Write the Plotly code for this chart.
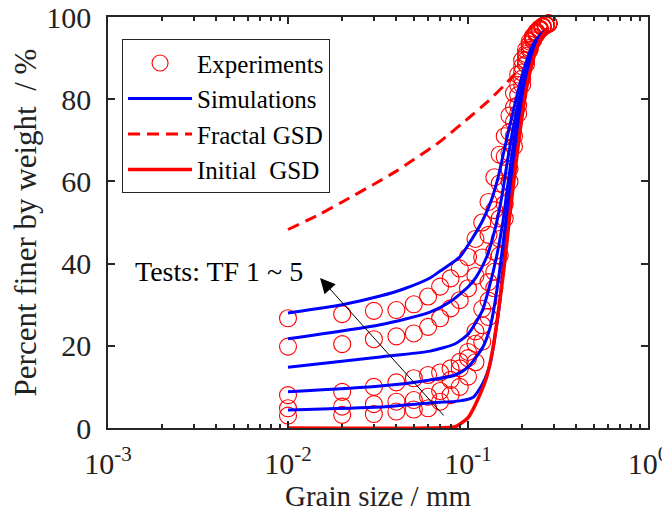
import math
import plotly.graph_objects as go

# ---------------- data ----------------
exp_d = [0.01, 0.02, 0.03, 0.04, 0.05, 0.06, 0.07, 0.08, 0.09, 0.10,
         0.11, 0.12, 0.13, 0.14, 0.15, 0.16, 0.17, 0.18, 0.19, 0.20,
         0.21, 0.22, 0.23, 0.24, 0.25, 0.26, 0.27, 0.28]
exp_tf1 = [3.0, 3.2, 3.4, 4.0, 4.5, 4.8, 6.4, 8.0, 10.0, 12.5,
           16, 21, 27, 34, 42, 51, 60, 68.5, 76.5, 83.5,
           88.5, 92, 94.3, 95.8, 96.8, 97.5, 98, 98.4]
exp_tf2 = [4.8, 5.2, 5.8, 6.4, 6.8, 7.6, 9.0, 11.7, 14.5, 17.0,
           20.5, 25, 31, 38, 46, 54.5, 63, 71, 78.5, 85,
           89.5, 92.5, 94.6, 96, 97, 97.6, 98, 98.4]
exp_tf3 = [8.0, 8.8, 10.0, 11.1, 12.1, 12.9, 13.5, 14.5, 16.1, 18.5,
           23.5, 29, 35.5, 43, 51, 59, 67, 74.5, 81, 86.5,
           90.5, 93.3, 95.2, 96.4, 97.2, 97.8, 98.2, 98.5]
exp_tf4 = [19.8, 20.4, 21.6, 22.3, 23.0, 24.6, 26.7, 29.1, 31.1, 34.0,
           37, 41.5, 47, 53, 59.5, 66, 72, 78, 83.5, 88,
           91, 93.3, 95, 96.2, 97, 97.6, 98, 98.4]
exp_tf5 = [26.7, 27.7, 28.5, 28.7, 30.1, 32.0, 34.4, 36.4, 38.8, 41.6,
           46, 50, 55, 61, 66.5, 71, 76, 81.5, 86, 89.5,
           92, 94, 95.3, 96.3, 97, 97.6, 98, 98.4]

sim1_d = [0.01, 0.0325, 0.0615, 0.09, 0.107, 0.121, 0.133, 0.141, 0.15, 0.156, 0.168, 0.18, 0.195, 0.21, 0.235, 0.255, 0.275]
sim1_p = [4.4, 5.1, 6.1, 6.6, 7.5, 10.9, 15.8, 22.1, 30.4, 38.4, 51, 62, 74, 83.5, 92, 95, 97]
sim2_d = [0.01, 0.0325, 0.0615, 0.085, 0.1, 0.121, 0.133, 0.141, 0.15, 0.165, 0.18, 0.195, 0.21, 0.232, 0.25, 0.275]
sim2_p = [8.8, 10.2, 11.7, 12.9, 14.8, 19.7, 24.6, 30.4, 38.4, 53, 66, 77, 85.5, 92, 95, 97]
sim3_d = [0.01, 0.0325, 0.0615, 0.085, 0.1, 0.12, 0.13, 0.144, 0.156, 0.165, 0.18, 0.195, 0.21, 0.232, 0.25, 0.275]
sim3_p = [14.8, 17.3, 18.7, 20.5, 22.8, 28.5, 33.6, 41.6, 50, 58, 70, 80, 86.5, 92.5, 95, 97]
sim4_d = [0.01, 0.0325, 0.0615, 0.08, 0.1, 0.111, 0.127, 0.141, 0.154, 0.165, 0.176, 0.19, 0.207, 0.23, 0.25, 0.275]
sim4_p = [21.7, 25.1, 28.2, 30.8, 34.3, 36.7, 41.6, 48.2, 56.2, 64.5, 71.8, 79, 86, 92.5, 95.3, 97]
sim5_d = [0.01, 0.02, 0.0325, 0.045, 0.0615, 0.07, 0.09, 0.107, 0.121, 0.135, 0.147, 0.156, 0.167, 0.185, 0.202, 0.228, 0.25, 0.275]
sim5_p = [28, 30, 32.1, 34, 36.5, 38.2, 41.6, 46.5, 50.6, 55.5, 61, 66, 71.8, 80, 86.5, 93, 95.5, 97]

fractal_d = [0.01, 0.015, 0.02, 0.03, 0.04, 0.05, 0.07, 0.1, 0.13, 0.16, 0.19]
fractal_p = [48.3, 52, 55, 59.3, 62.5, 65.3, 69.7, 75.3, 79.6, 83.5, 87.0]

initial_d = [0.01, 0.06, 0.085, 0.1, 0.111, 0.127, 0.138, 0.147, 0.158, 0.17, 0.183, 0.197, 0.212, 0.235, 0.255, 0.28]
initial_p = [0, 0, 0.3, 2.5, 6.1, 12.4, 19.7, 28, 38.4, 51, 63, 74, 83, 91, 95, 97.5]

x_tick_vals = [0.001, 0.01, 0.1, 1]
x_tick_text = ["10<sup>-3</sup>", "10<sup>-2</sup>", "10<sup>-1</sup>", "10<sup>0</sup>"]
y_tick_vals = [0, 20, 40, 60, 80, 100]

arrow_tip = (0.01507, 36.5)
arrow_tail = (0.0745, 2.7)
label_pos = (0.0124, 38)

# ---------------- figure ----------------
FONT = "Liberation Serif"
AX = "#262626"
fig = go.Figure()

exps = [exp_tf1, exp_tf2, exp_tf3, exp_tf4, exp_tf5]
for i, p in enumerate(exps):
    fig.add_trace(go.Scatter(
        x=exp_d, y=p, mode="markers", name="Experiments",
        showlegend=(i == 0), legendgroup="exp",
        marker=dict(symbol="circle-open", size=17, color="red", line=dict(width=1.1)),
        cliponaxis=False))

sims = [(sim1_d, sim1_p), (sim2_d, sim2_p), (sim3_d, sim3_p), (sim4_d, sim4_p), (sim5_d, sim5_p)]
for i, (d, p) in enumerate(sims):
    fig.add_trace(go.Scatter(
        x=d, y=p, mode="lines", name="Simulations",
        showlegend=(i == 0), legendgroup="sim",
        line=dict(color="#0000ff", width=3, shape="spline", smoothing=0.6)))

fig.add_trace(go.Scatter(
    x=fractal_d, y=fractal_p, mode="lines", name="Fractal GSD",
    line=dict(color="red", width=3, dash="12px,7px", shape="spline", smoothing=0.6)))

fig.add_trace(go.Scatter(
    x=initial_d, y=initial_p, mode="lines", name="Initial  GSD",
    line=dict(color="red", width=3.5, shape="spline", smoothing=0.6)))

minor_vals = [m * 10 ** e for e in (-3, -2, -1) for m in range(2, 10)]

fig.update_xaxes(
    type="log", range=[-3, 0], automargin=False,
    tickmode="array", tickvals=x_tick_vals, ticktext=x_tick_text,
    ticks="inside", ticklen=7, tickwidth=1.5, tickcolor=AX,
    ticklabelstandoff=8, ticklabeloverflow="allow",
    showline=True, linecolor=AX, linewidth=1.5, mirror="allticks",
    showgrid=False, zeroline=False,
    minor=dict(ticks="inside", ticklen=4, tickwidth=1.5, tickcolor=AX,
               tickmode="array", tickvals=minor_vals, showgrid=False),
    tickfont=dict(family=FONT, size=30, color="#222"),
    title=dict(text="Grain size / mm", font=dict(family=FONT, size=29, color="#222"), standoff=4),
)
fig.update_yaxes(
    range=[0, 100], tickmode="array", tickvals=y_tick_vals, automargin=False,
    ticks="inside", ticklen=7, tickwidth=1.5, tickcolor=AX,
    ticklabelstandoff=9, ticklabeloverflow="allow",
    showline=True, linecolor=AX, linewidth=1.5, mirror="allticks",
    showgrid=False, zeroline=False,
    tickfont=dict(family=FONT, size=30, color="#222"),
    title=dict(text="Percent finer by weight  / %", font=dict(family=FONT, size=31, color="#222"), standoff=16),
)

fig.add_annotation(
    x=math.log10(arrow_tip[0]), y=arrow_tip[1],
    ax=math.log10(arrow_tail[0]), ay=arrow_tail[1],
    xref="x", yref="y", axref="x", ayref="y",
    text="", showarrow=True, arrowhead=2, arrowsize=3, arrowwidth=1, arrowcolor="black",
    standoff=0, startstandoff=0)
fig.add_annotation(
    x=math.log10(label_pos[0]), y=label_pos[1], xref="x", yref="y",
    text="Tests: TF 1 ~ 5", showarrow=False, xanchor="right", yanchor="middle",
    font=dict(family=FONT, size=28, color="black"))

# page body has an 8px default margin, so the figure is 8px smaller each way
fig.update_layout(
    width=662, height=516,
    margin=dict(l=100, r=22, t=9, b=96),
    paper_bgcolor="white", plot_bgcolor="white",
    font=dict(family=FONT, color="#222"),
    legend=dict(
        x=0.026, y=0.946, xanchor="left", yanchor="top",
        bgcolor="white", bordercolor=AX, borderwidth=1,
        font=dict(family=FONT, size=25, color="black"),
        tracegroupgap=0, itemwidth=64,
    ),
    showlegend=True,
)

fig.write_html("out.html")
